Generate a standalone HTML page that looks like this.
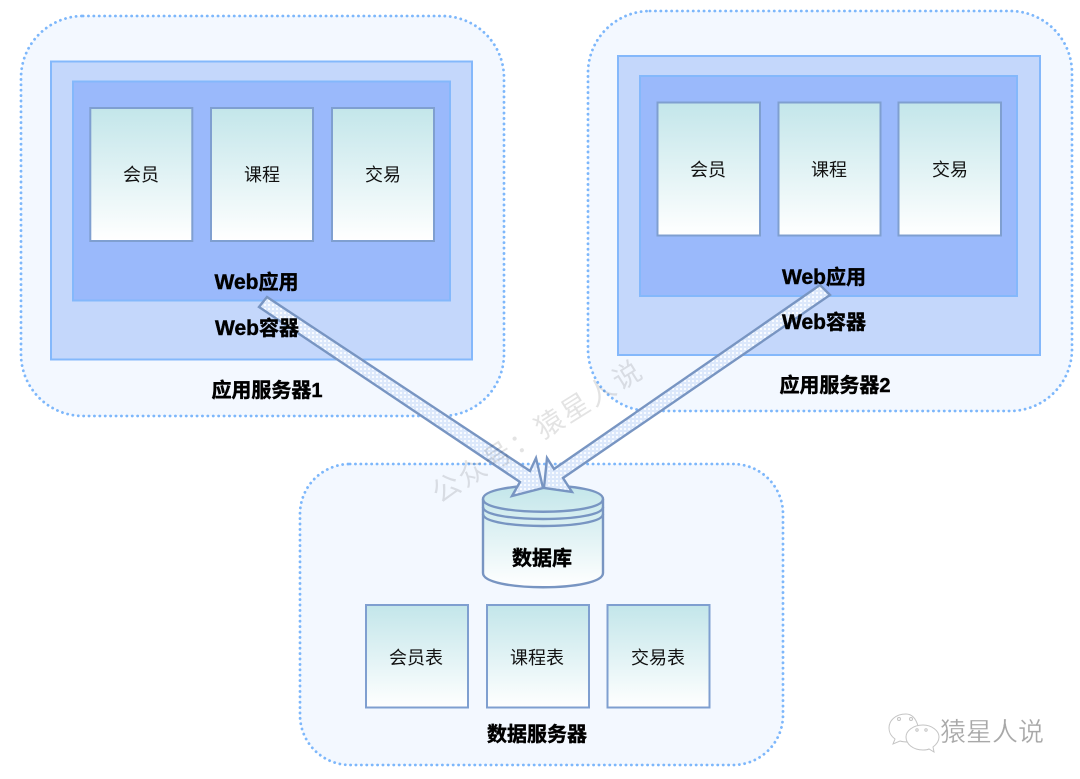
<!DOCTYPE html>
<html><head><meta charset="utf-8"><style>
html,body{margin:0;padding:0;background:#fff}
svg{display:block}
text{font-family:"Liberation Sans","Noto Sans CJK SC",sans-serif;text-anchor:middle;fill:#111}
.c{fill:url(#g);stroke:#7f9fd0;stroke-width:2}
.o{fill:#f3f8ff;stroke:#7db7fb;stroke-width:2.8;stroke-dasharray:.1 5.3;stroke-linecap:round}
.i{fill:#c4d7fb;stroke:#84b8fb;stroke-width:2}
.a{fill:#9ab9fb;stroke:#84b8fb;stroke-width:2}
.t{font-size:18px}
.b{font-size:20px;font-weight:bold;fill:#000;stroke:#000;stroke-width:.45}
.ar{fill:url(#p);stroke:#7895c2;stroke-width:2.4;stroke-linejoin:miter}
</style></head><body>
<svg width="1080" height="779" viewBox="0 0 1080 779" xmlns="http://www.w3.org/2000/svg">
<defs>
<linearGradient id="g" x1="0" y1="0" x2="0" y2="1"><stop offset="0" stop-color="#c3e6ea"/><stop offset="1" stop-color="#ffffff"/></linearGradient>
<pattern id="p" width="4" height="4" patternUnits="userSpaceOnUse"><rect width="4" height="4" fill="#dce8fb"/><rect width="2" height="2" fill="#f8fbff"/></pattern>
</defs>

<rect class="o" x="21" y="16" width="483" height="400" rx="62"/>
<rect class="o" x="588" y="11" width="484" height="400" rx="62"/>
<rect class="o" x="300" y="464" width="483" height="301" rx="50"/>

<rect class="i" x="51" y="61.500" width="421" height="298"/>
<rect class="a" x="73" y="81.500" width="377" height="219"/>
<rect class="c" x="90.300" y="108" width="102" height="133"/>
<rect class="c" x="211" y="108" width="102" height="133"/>
<rect class="c" x="332" y="108" width="102" height="133"/>
<text class="t" x="141" y="181">会员</text>
<text class="t" x="262" y="181">课程</text>
<text class="t" x="383" y="181">交易</text>
<text class="b" x="267" y="397">应用服务器1</text>

<rect class="i" x="618" y="56" width="422" height="299"/>
<rect class="a" x="640" y="76" width="377" height="220"/>
<rect class="c" x="657.500" y="102.500" width="102.500" height="133"/>
<rect class="c" x="778.500" y="102.500" width="102" height="133"/>
<rect class="c" x="898.500" y="102.500" width="102.500" height="133"/>
<text class="t" x="708" y="176">会员</text>
<text class="t" x="829" y="176">课程</text>
<text class="t" x="950" y="176">交易</text>
<text class="b" x="835" y="392">应用服务器2</text>

<path d="M483 499C483 481 603 481 603 499V573C603 592 483 592 483 573Z" fill="url(#g)" stroke="#7895c2" stroke-width="2.4"/>
<path d="M483 499C483 516 603 516 603 499M483 507C483 523 603 523 603 507M483 514C483 530 603 530 603 514" fill="none" stroke="#7895c2" stroke-width="2.4"/>
<text class="b" x="542" y="565">数据库</text>

<rect class="c" x="366" y="605" width="102" height="102.500"/>
<rect class="c" x="487" y="605" width="102" height="102.500"/>
<rect class="c" x="607.500" y="605" width="102" height="102.500"/>
<text class="t" x="416" y="664">会员表</text>
<text class="t" x="537" y="664">课程表</text>
<text class="t" x="658" y="664">交易表</text>
<text class="b" x="537" y="741">数据服务器</text>

<path class="ar" d="M267 297L530 471L536 458L543 488L512 496L520 482L259 307Z"/>
<path class="ar" d="M820 285L554 469L547 458L544 488L572 492L563 478L830 295Z"/>

<text class="b" x="256.500" y="289"><tspan style="font-size:21px">Web</tspan>应用</text>
<text class="b" x="257" y="335"><tspan style="font-size:21px">Web</tspan>容器</text>
<text class="b" x="824" y="284"><tspan style="font-size:21px">Web</tspan>应用</text>
<text class="b" x="824" y="329"><tspan style="font-size:21px">Web</tspan>容器</text>

<text x="0" y="0" transform="translate(537.500,431) rotate(-32) translate(0,10)" style="font-size:28px;letter-spacing:2.400px;fill:#000;fill-opacity:.11">公众号：猿星人说</text>

<g fill="#fff" stroke="#c4c4c4" stroke-width="1">
<path d="M906 714C895 714 889 721 889 728C889 733 891 736 895 739L893 744L900 741C903 742 906 742 909 742C917 742 921 734 918 726C916 719 912 714 906 714Z"/>
<path d="M923 725C913 725 906 731 906 737C906 744 913 750 923 750C925 750 927 750 929 749L934 752L933 747C937 744 939 741 939 737C939 731 932 725 923 725Z"/>
<circle cx="899" cy="719" r="1.500"/><circle cx="911" cy="719" r="1.500"/><circle cx="917" cy="730" r="1.200"/><circle cx="926" cy="730" r="1.200"/>
</g>
<text x="992" y="741" style="font-size:26px;fill:#a8a8a8;stroke:#fff;stroke-width:.3">猿星人说</text>
</svg>
</body></html>
